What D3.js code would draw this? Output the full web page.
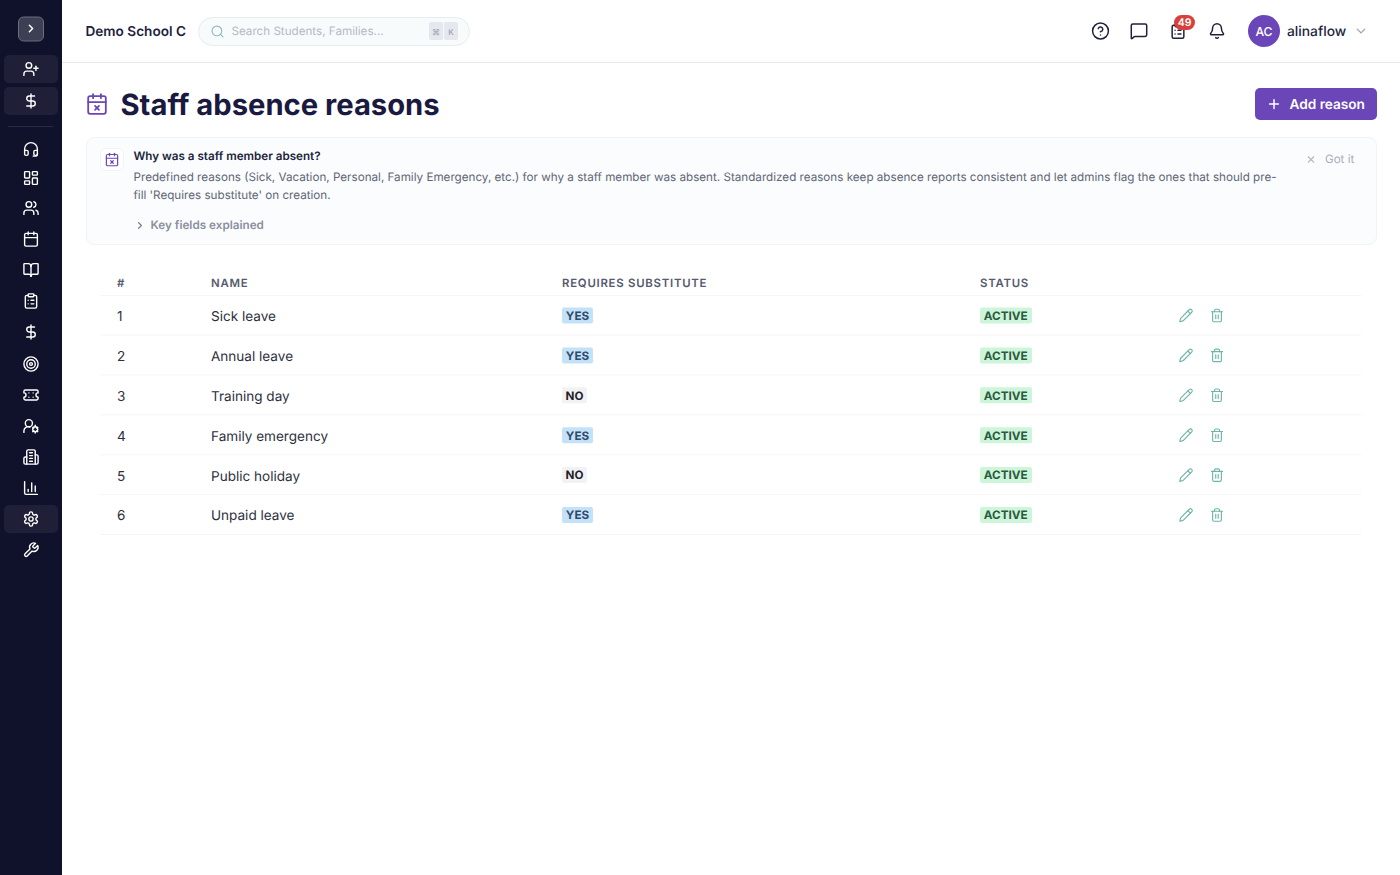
<!DOCTYPE html>
<html><head><meta charset="utf-8">
<script src="https://cdn.jsdelivr.net/npm/d3@7/dist/d3.min.js"></script>
<style>html,body{margin:0;padding:0;background:#fff;overflow:hidden}svg{display:block;font-family:Inter,sans-serif;text-rendering:geometricPrecision}</style>
</head><body><div id="c"></div>
<script>
const rowNumbers=["1","2","3","4","5","6"];
const reasonNames=["Sick leave","Annual leave","Training day","Family emergency","Public holiday","Unpaid leave"];
const requiresSubstitute=["YES","YES","NO","YES","NO","YES"];
const statuses=["ACTIVE","ACTIVE","ACTIVE","ACTIVE","ACTIVE","ACTIVE"];
const columnLabels=["#","NAME","REQUIRES SUBSTITUTE","STATUS"];
const columnKeys=["num","name","sub","status","edit","del"];
const columnPositions=[117,211,562,980,1186,1217];
const sidebarIcons=["userPlus","dollar","headset","grid","users","calendar","book","clipboard","dollar","target","ticket","userCog","building","chart","gear","wrench"];
const sidebarCenters=[69,101,149,178,208,239,270,301,332,364,395,426,457,488,519,550];
const activeSidebar=[0,1,14];
const helpLines=["Predefined reasons (Sick, Vacation, Personal, Family Emergency, etc.) for why a staff member was absent. Standardized reasons keep absence reports consistent and let admins flag the ones that should pre-","fill 'Requires substitute' on creation."];

const P={
userPlus:["M16 21v-2a4 4 0 0 0-4-4H6a4 4 0 0 0-4 4v2","M9 3a4 4 0 1 0 0 8a4 4 0 1 0 0-8","M19 8v6","M22 11h-6"],
dollar:["M12 2v20","M17 5H9.5a3.5 3.5 0 0 0 0 7h5a3.5 3.5 0 0 1 0 7H6"],
headset:["M3 14h3a2 2 0 0 1 2 2v3a2 2 0 0 1-2 2H5a2 2 0 0 1-2-2v-7a9 9 0 0 1 18 0v7a2 2 0 0 1-2 2h-1a2 2 0 0 1-2-2v-3a2 2 0 0 1 2-2h3","M21 19v1a3 3 0 0 1-3 2h-3"],
grid:["M4 3h5a1 1 0 0 1 1 1v7a1 1 0 0 1-1 1H4a1 1 0 0 1-1-1V4a1 1 0 0 1 1-1z","M15 3h5a1 1 0 0 1 1 1v3a1 1 0 0 1-1 1h-5a1 1 0 0 1-1-1V4a1 1 0 0 1 1-1z","M15 12h5a1 1 0 0 1 1 1v7a1 1 0 0 1-1 1h-5a1 1 0 0 1-1-1v-7a1 1 0 0 1 1-1z","M4 16h5a1 1 0 0 1 1 1v3a1 1 0 0 1-1 1H4a1 1 0 0 1-1-1v-3a1 1 0 0 1 1-1z"],
users:["M16 21v-2a4 4 0 0 0-4-4H6a4 4 0 0 0-4 4v2","M9 3a4 4 0 1 0 0 8a4 4 0 1 0 0-8","M22 21v-2a4 4 0 0 0-3-3.87","M16 3.13a4 4 0 0 1 0 7.75"],
calendar:["M8 2v4","M16 2v4","M5 4h14a2 2 0 0 1 2 2v14a2 2 0 0 1-2 2H5a2 2 0 0 1-2-2V6a2 2 0 0 1 2-2z","M3 10h18"],
calendarX:["M8 2v4","M16 2v4","M5 4h14a2 2 0 0 1 2 2v14a2 2 0 0 1-2 2H5a2 2 0 0 1-2-2V6a2 2 0 0 1 2-2z","M3 10h18","M10 14l4 4","M14 14l-4 4"],
book:["M12 7v14","M3 18a1 1 0 0 1-1-1V4a1 1 0 0 1 1-1h5a4 4 0 0 1 4 4a4 4 0 0 1 4-4h5a1 1 0 0 1 1 1v13a1 1 0 0 1-1 1h-6a3 3 0 0 0-3 3a3 3 0 0 0-3-3z"],
clipboard:["M9 2h6a1 1 0 0 1 1 1v2a1 1 0 0 1-1 1H9a1 1 0 0 1-1-1V3a1 1 0 0 1 1-1z","M16 4h2a2 2 0 0 1 2 2v14a2 2 0 0 1-2 2H6a2 2 0 0 1-2-2V6a2 2 0 0 1 2-2h2","M12 11h4","M12 16h4","M8 11h.01","M8 16h.01"],
target:["M12 2a10 10 0 1 0 0 20a10 10 0 1 0 0-20","M12 6a6 6 0 1 0 0 12a6 6 0 1 0 0-12","M12 10a2 2 0 1 0 0 4a2 2 0 1 0 0-4"],
ticket:["M2 9a3 3 0 0 1 0 6v2a2 2 0 0 0 2 2h16a2 2 0 0 0 2-2v-2a3 3 0 0 1 0-6V7a2 2 0 0 0-2-2H4a2 2 0 0 0-2 2z","M9 9h.01","M15 9h.01","M9 15h.01","M15 15h.01"],
userCog:["M2 21v-2a6 6 0 0 1 8.5-5.5","M9 3a5 5 0 1 0 0 10a5 5 0 1 0 0-10","M18 13a3.5 3.5 0 1 0 0 7a3.5 3.5 0 1 0 0-7","M18 11v2","M18 20v2","M14.5 14l1.5 1","M20 19l1.5 1","M14.5 20l1.5-1","M20 15l1.5-1"],
building:["M6 22V4a2 2 0 0 1 2-2h8a2 2 0 0 1 2 2v18z","M6 12H4a2 2 0 0 0-2 2v6a2 2 0 0 0 2 2h2","M18 9h2a2 2 0 0 1 2 2v9a2 2 0 0 1-2 2h-2","M10 6h4","M10 10h4","M10 14h4","M10 18h4"],
chart:["M3 3v16a2 2 0 0 0 2 2h16","M18 17V9","M13 17V5","M8 17v-3"],
gear:["M12.22 2h-.44a2 2 0 0 0-2 2v.18a2 2 0 0 1-1 1.73l-.43.25a2 2 0 0 1-2 0l-.15-.08a2 2 0 0 0-2.73.73l-.22.38a2 2 0 0 0 .73 2.73l.15.1a2 2 0 0 1 1 1.72v.51a2 2 0 0 1-1 1.74l-.15.09a2 2 0 0 0-.73 2.73l.22.38a2 2 0 0 0 2.73.73l.15-.08a2 2 0 0 1 2 0l.43.25a2 2 0 0 1 1 1.73V20a2 2 0 0 0 2 2h.44a2 2 0 0 0 2-2v-.18a2 2 0 0 1 1-1.73l.43-.25a2 2 0 0 1 2 0l.15.08a2 2 0 0 0 2.73-.73l.22-.39a2 2 0 0 0-.73-2.73l-.15-.08a2 2 0 0 1-1-1.74v-.5a2 2 0 0 1 1-1.74l.15-.09a2 2 0 0 0 .73-2.73l-.22-.38a2 2 0 0 0-2.73-.73l-.15.08a2 2 0 0 1-2 0l-.43-.25a2 2 0 0 1-1-1.73V4a2 2 0 0 0-2-2z","M12 9a3 3 0 1 0 0 6a3 3 0 1 0 0-6"],
wrench:["M14.7 6.3a1 1 0 0 0 0 1.4l1.6 1.6a1 1 0 0 0 1.4 0l3.77-3.77a6 6 0 0 1-7.94 7.94l-6.91 6.91a2.12 2.12 0 0 1-3-3l6.91-6.91a6 6 0 0 1 7.94-7.94z"],
chevRight:["M9 18l6-6-6-6"],
chevDown:["M6 9l6 6 6-6"],
search:["M11 3a8 8 0 1 0 0 16a8 8 0 1 0 0-16","M21 21l-4.3-4.3"],
help:["M12 2a10 10 0 1 0 0 20a10 10 0 1 0 0-20","M9.09 9a3 3 0 0 1 5.83 1c0 2-3 3-3 3","M12 17h.01"],
message:["M22 17a2 2 0 0 1-2 2H6.83a2 2 0 0 0-1.41.59l-2.2 2.2A.71.71 0 0 1 2 21.29V5a2 2 0 0 1 2-2h16a2 2 0 0 1 2 2z"],
bell:["M10.27 21a2 2 0 0 0 3.46 0","M3.26 15.33A1 1 0 0 0 4 17h16a1 1 0 0 0 .74-1.67C19.41 13.96 18 12.5 18 8A6 6 0 0 0 6 8c0 4.5-1.41 5.96-2.74 7.33"],
plus:["M5 12h14","M12 5v14"],
x:["M18 6L6 18","M6 6l12 12"],
pencil:["M21.17 6.81a2.83 2.83 0 0 0-4-4L3.84 16.17a2 2 0 0 0-.5.83l-1.32 4.35a.5.5 0 0 0 .62.62l4.35-1.32a2 2 0 0 0 .83-.5z","M15 5l4 4"],
trash:["M3 6h18","M19 6v14a2 2 0 0 1-2 2H7a2 2 0 0 1-2-2V6","M8 6V4a2 2 0 0 1 2-2h4a2 2 0 0 1 2 2v2","M10 11v6","M14 11v6"]
};

const svg=d3.select("#c").append("svg").attr("width",1400).attr("height",875).attr("viewBox","0 0 1400 875");
function rect(x,y,w,h,r,fill,stroke,sw){const e=svg.append("rect").attr("x",x).attr("y",y).attr("width",w).attr("height",h).attr("rx",r||0).attr("fill",fill||"none");if(stroke)e.attr("stroke",stroke).attr("stroke-width",sw||1);return e;}
function txt(s,x,y,size,weight,fill,anchor,ls){return svg.append("text").attr("x",x).attr("y",y).attr("font-size",size).attr("font-weight",weight||400).attr("fill",fill).attr("text-anchor",anchor||"start").attr("dominant-baseline","central").attr("letter-spacing",ls||0).text(s);}
function icon(n,cx,cy,size,color,sw){const k=size/24;const g=svg.append("g").attr("transform",`translate(${cx-size/2},${cy-size/2}) scale(${k})`).attr("fill","none").attr("stroke",color).attr("stroke-width",(sw||1.5)/k).attr("stroke-linecap","round").attr("stroke-linejoin","round");g.selectAll("path").data(P[n]).join("path").attr("d",d=>d);return g;}

// sidebar
rect(0,0,62,875,0,"#10112b");
rect(18.5,17,25,24,5,"#3d3f55","#6b6d80",1);
icon("chevRight",31,28.5,13,"#ffffff",1.5);
sidebarIcons.forEach((n,i)=>{const y=sidebarCenters[i];if(activeSidebar.includes(i))rect(4,y-14,54,28,5,"#1f2038");icon(n,31,y,17,"#ffffff",1.4);});
rect(8,126,45,1,0,"#2a2b43");

// header
svg.append("line").attr("x1",62).attr("x2",1400).attr("y1",62.5).attr("y2",62.5).attr("stroke","#e8e9ee");
txt("Demo School C",85.5,31.5,13.6,600,"#1e1e3f");
rect(198.5,17.5,271,28,14,"#f8fbfc","#e7ecef",1);
icon("search",217.5,31.5,14.5,"#93bdbd",1.2);
txt("Search Students, Families...",231.5,31.3,11.65,400,"#b4bbc5");
rect(429,22,14,18,2,"#e5e8ef");rect(444,22,14,18,2,"#e5e8ef");
txt("⌘",436,31.5,8,400,"#9aa1ad","middle");txt("K",451,31.5,8,500,"#9aa1ad","middle");
icon("help",1100.5,31,19,"#20223d",1.5);
icon("message",1139,31,18.5,"#20223d",1.5);
icon("clipboard",1178,31,17.5,"#20223d",1.5);
rect(1174,15,21,15,7.5,"#d8413a");
txt("49",1184.5,22.5,10.5,600,"#ffffff","middle");
icon("bell",1217,31,17.5,"#20223d",1.5);
svg.append("circle").attr("cx",1264).attr("cy",31).attr("r",16).attr("fill","#6b46b8");
txt("AC",1264,31,12.25,500,"#ffffff","middle");
txt("alinaflow",1287,31.5,13.8,500,"#22243f");
icon("chevDown",1361,31,15,"#a0a4b0",1.4);

// title
icon("calendarX",97,104,23.5,"#6b46b8",1.8);
txt("Staff absence reasons",120.5,105.2,29.2,700,"#1a1a40");
rect(1255,88,122,32,5,"#6b46b8");
icon("plus",1274,104,15,"#ffffff",1.5);
txt("Add reason",1289.5,104.5,13.65,600,"#ffffff");

// help panel
rect(86.5,137.5,1290,107,8,"#fafcfe","#f0f3f6",1);
rect(100.5,148.5,23,22,5,"#ffffff","#f2f3f7",1);
icon("calendarX",112,159.5,15,"#6b46b8",1.2);
txt("Why was a staff member absent?",133.5,156.2,11.65,600,"#22243a");
helpLines.forEach((l,i)=>txt(l,133.5,[176.8,195.3][i],11.66,400,"#5f6675"));
icon("chevRight",140,225.5,11,"#7b8291",1.3);
txt("Key fields explained",150.5,225.1,11.7,600,"#8a909d");
icon("x",1311,159.5,11,"#b5b9c2",1.1);
txt("Got it",1325,159.1,11.6,400,"#a9aeb8");

// table
const x=d3.scaleOrdinal().domain(columnKeys).range(columnPositions);
const y=d3.scalePoint().domain(rowNumbers).range([315.5,515]);
columnLabels.forEach((l,i)=>txt(l,columnPositions[i],283.2,11.4,600,"#565a6e","start",i==0?0:0.75));
const borderXs=[100,1361];
[295.5].concat(rowNumbers.map(r=>y(r)+19.5)).forEach(v=>svg.append("line").attr("x1",borderXs[0]).attr("x2",borderXs[1]).attr("y1",v).attr("y2",v).attr("stroke","#f5f5f7"));
rowNumbers.forEach((r,i)=>{
  const cy=y(r);
  txt(r,x("num"),cy+1.4,13.6,400,"#2d3040");
  txt(reasonNames[i],x("name"),cy+1.4,13.55,400,"#2d3040");
  const yes=requiresSubstitute[i]==="YES";
  rect(x("sub"),cy-8,yes?31:25,16,2,yes?"#c3e2f7":"#f2f2f4");
  txt(requiresSubstitute[i],x("sub")+(yes?15.5:12.5),cy+.3,11.7,700,yes?"#2f4a6e":"#1d1f2b","middle");
  rect(x("status"),cy-8,52,16,2,"#cdf5d9");
  txt(statuses[i],x("status")+25.7,cy+.3,11.7,700,"#2a5a40","middle");
  icon("pencil",x("edit"),cy,15,"#6fb5a9",1.15);
  icon("trash",x("del"),cy,15,"#6fb5a9",1.15);
});
</script></body></html>
